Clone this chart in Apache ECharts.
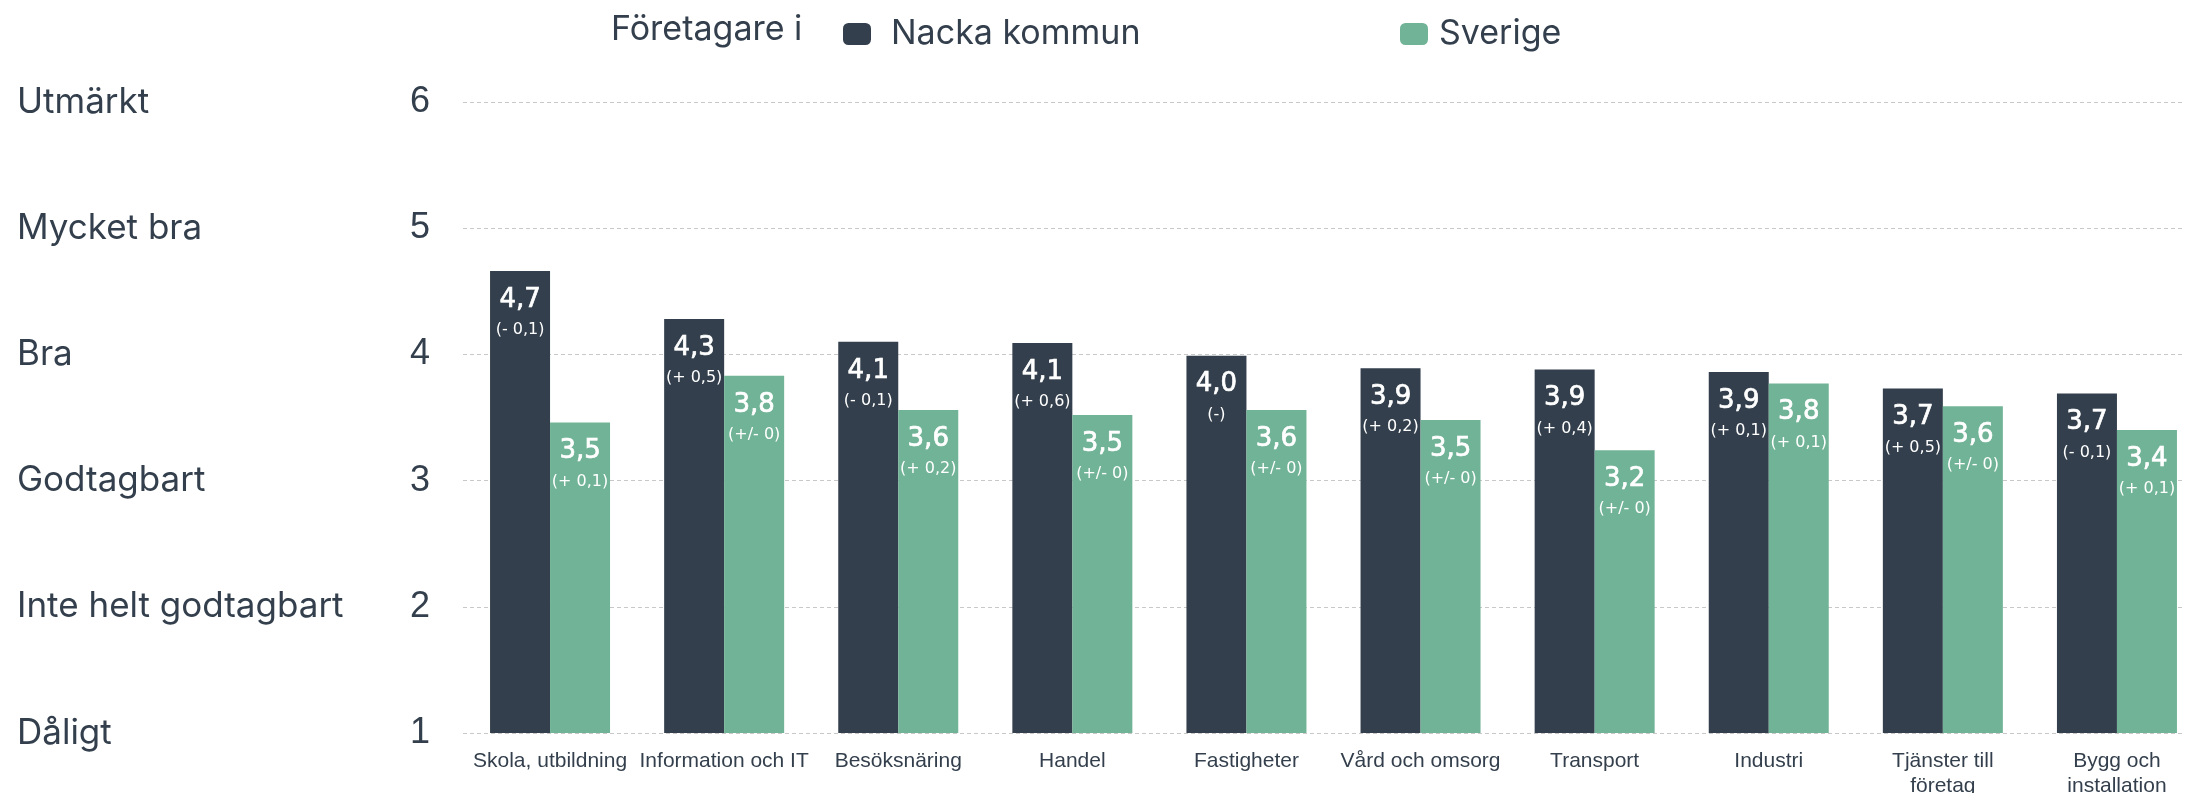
<!DOCTYPE html>
<html>
<head>
<meta charset="utf-8">
<script src="https://cdn.jsdelivr.net/npm/echarts@6/dist/echarts.min.js"></script>
<style>
  html, body { margin: 0; padding: 0; background: #fff; }
  #chart { width: 2185px; height: 793px; }
</style>
</head>
<body>
<div id="chart"></div>
<script>
const categories = ['Skola, utbildning', 'Information och IT', 'Besöksnäring', 'Handel', 'Fastigheter',
  'Vård och omsorg', 'Transport', 'Industri', 'Tjänster till\nföretag', 'Bygg och\ninstallation']
const nacka = [4.66, 4.28, 4.10, 4.09, 3.99, 3.89, 3.88, 3.86, 3.73, 3.69]
const sverige = [3.46, 3.83, 3.56, 3.52, 3.56, 3.48, 3.24, 3.77, 3.59, 3.40]
const nackaChange = ['(- 0,1)', '(+ 0,5)', '(- 0,1)', '(+ 0,6)', '(-)', '(+ 0,2)', '(+ 0,4)', '(+ 0,1)', '(+ 0,5)', '(- 0,1)']
const sverigeChange = ['(+ 0,1)', '(+/- 0)', '(+ 0,2)', '(+/- 0)', '(+/- 0)', '(+/- 0)', '(+/- 0)', '(+ 0,1)', '(+/- 0)', '(+ 0,1)']
const scaleLabels = ['Dåligt', 'Inte helt godtagbart', 'Godtagbart', 'Bra', 'Mycket bra', 'Utmärkt']

const textColor = '#333f4c'
const darkColor = '#333f4c'
const greenColor = '#70b396'

const chart = echarts.init(document.getElementById('chart'))

// etikett inne i stapeln: värde + förändring
const barLabel = (changes, bg) => ({
  show: true,
  position: 'insideTop',
  distance: 12,
  formatter: (p) => '{v|' + p.value.toFixed(1).replace('.', ',') + '}\n{d|' + changes[p.dataIndex] + '}',
  rich: {
    v: {
      color: '#fff', fontFamily: 'DejaVu Sans', fontSize: 26, lineHeight: 34, align: 'center',
      textBorderColor: '#fff', textBorderWidth: 0.7
    },
    d: { color: '#fff', fontFamily: 'DejaVu Sans', fontSize: 16, lineHeight: 26, align: 'center' }
  }
})

const option = {
  animation: false,
  title: {
    text: 'Företagare i',
    left: 606,
    top: 8,
    textStyle: { color: textColor, fontFamily: 'Inter', fontSize: 34, fontWeight: 'normal' }
  },
  legend: [
    {
      data: ['Nacka kommun'],
      left: 838,
      top: 12,
      icon: 'roundRect',
      itemWidth: 28,
      itemHeight: 22,
      textStyle: { color: textColor, fontFamily: 'Inter', fontSize: 34, padding: [0, 0, 0, 15] }
    },
    {
      data: ['Sverige'],
      left: 1395,
      top: 12,
      icon: 'roundRect',
      itemWidth: 28,
      itemHeight: 22,
      textStyle: { color: textColor, fontFamily: 'Inter', fontSize: 34, padding: [0, 0, 0, 6] }
    }
  ],
  grid: {
    left: 463,
    top: 102,
    width: 1741,
    height: 631,
    containLabel: false,
    outerBoundsMode: 'none'
  },
  xAxis: {
    type: 'category',
    data: categories,
    axisLine: { show: false },
    axisTick: { show: false },
    axisLabel: {
      interval: 0,
      margin: 16,
      color: textColor,
      fontFamily: 'Liberation Sans',
      fontSize: 21,
      lineHeight: 25
    }
  },
  yAxis: [
    {
      type: 'value',
      min: 1,
      max: 6,
      interval: 1,
      axisLine: { show: false },
      axisTick: { show: false },
      axisLabel: {
        margin: 33,
        color: textColor,
        fontFamily: 'Liberation Sans',
        fontSize: 36
      },
      splitLine: {
        lineStyle: { color: '#c8c8c8', width: 1, type: [4, 3] }
      }
    },
    {
      type: 'value',
      position: 'left',
      min: 1,
      max: 6,
      interval: 1,
      axisLine: { show: false },
      axisTick: { show: false },
      splitLine: { show: false },
      axisLabel: {
        margin: 446,
        align: 'left',
        color: textColor,
        fontFamily: 'Inter',
        fontSize: 35,
        formatter: (v) => scaleLabels[v - 1]
      }
    }
  ],
  series: [
    {
      name: 'Nacka kommun',
      type: 'bar',
      data: nacka,
      barWidth: 60,
      barGap: '0%',
      itemStyle: { color: darkColor },
      label: barLabel(nackaChange)
    },
    {
      name: 'Sverige',
      type: 'bar',
      data: sverige,
      barWidth: 60,
      barGap: '0%',
      itemStyle: { color: greenColor },
      label: barLabel(sverigeChange)
    }
  ]
}

chart.setOption(option)
</script>
</body>
</html>
